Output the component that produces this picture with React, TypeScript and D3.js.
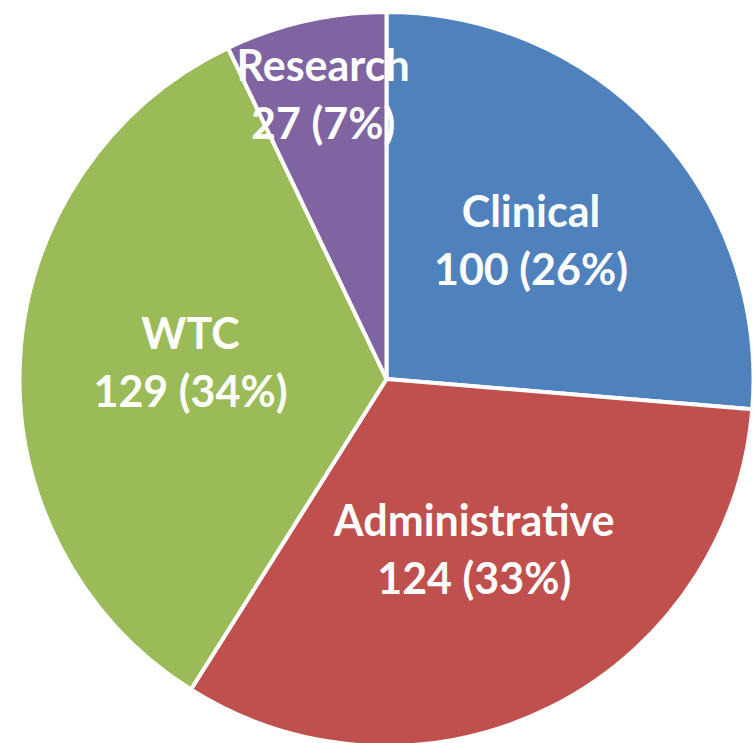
import React from "react";
import * as d3 from "d3";

const categories = ["Clinical", "Administrative", "WTC", "Research"];
const values = [100, 124, 129, 27];
const colors = ["#4F81BD", "#C0504D", "#9BBB59", "#8064A2"];

export default function App() {
  const width = 753;
  const height = 743;
  const cx = 386.5;
  const cy = 379;
  const R = 367;
  const total = d3.sum(values);
  const data = categories.map((c, i) => ({ name: c, value: values[i], color: colors[i] }));
  const pie = d3.pie<any>().value((d) => d.value).sort(null);
  const arcs = pie(data);
  const arc = d3.arc<any>().innerRadius(0).outerRadius(R);

  return (
    <svg width={width} height={height} style={{ position: "absolute", left: 0, top: 0, display: "block" }}>
      <g transform={`translate(${cx},${cy})`}>
        {arcs.map((a, i) => (
          <path key={i} d={arc(a) as string} fill={a.data.color} stroke="#fff" strokeWidth={4} strokeLinejoin="round" />
        ))}
        {arcs.map((a, i) => {
          const frac = a.data.value / total;
          const lr = frac < 0.1 ? R * 0.78 : R * 0.535;
          const la = d3.arc<any>().innerRadius(lr).outerRadius(lr);
          const [x, y] = la.centroid(a);
          const pct = Math.round(frac * 100);
          return (
            <text key={"t" + i} x={x} y={y} textAnchor="middle" fill="#fff" fontFamily="Lato, 'Open Sans', sans-serif" fontWeight={700} fontSize={43}>
              <tspan x={x} dy={-19}>{a.data.name}</tspan>
              <tspan x={x} dy={58}>{`${a.data.value} (${pct}%)`}</tspan>
            </text>
          );
        })}
      </g>
    </svg>
  );
}
